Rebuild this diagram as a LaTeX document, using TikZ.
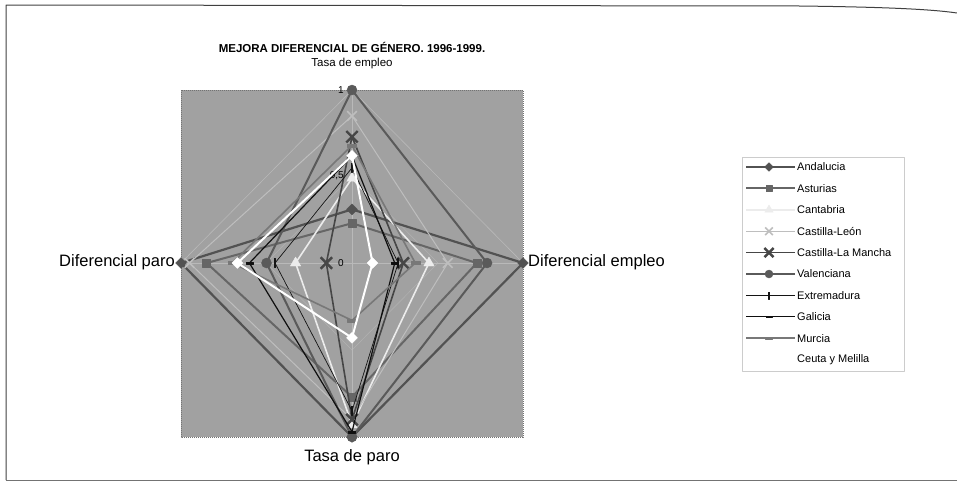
\documentclass[tikz,border=0pt]{standalone}
\usepackage{fontspec}
\setmainfont{Liberation Sans}
\usetikzlibrary{shapes.geometric, shapes.misc}
\definecolor{plotgray}{RGB}{161,161,161}
\definecolor{gridgray}{RGB}{185,185,185}
\definecolor{andcol}{RGB}{82,82,82}
\definecolor{astcol}{RGB}{102,102,102}
\definecolor{cancol}{RGB}{236,236,236}
\definecolor{cylcol}{RGB}{190,190,190}
\definecolor{clmcol}{RGB}{70,70,70}
\definecolor{valcol}{RGB}{90,90,90}
\definecolor{extcol}{RGB}{20,20,20}
\definecolor{galcol}{RGB}{15,15,15}
\definecolor{murcol}{RGB}{120,120,120}
\definecolor{ceucol}{RGB}{255,255,255}
\tikzstyle{mk_diamond} = [diamond, inner sep=0pt, minimum size=11pt]
\tikzstyle{mk_square} = [rectangle, inner sep=0pt, minimum size=8pt]
\tikzstyle{mk_tri} = [regular polygon, regular polygon sides=3, inner sep=0pt, minimum size=12pt]
\tikzstyle{mk_cross} = [cross out, fill=none, inner sep=0pt, minimum size=8pt, line width=1.6pt]
\tikzstyle{mk_star} = [cross out, fill=none, inner sep=0pt, minimum size=9pt, line width=2.4pt]
\tikzstyle{mk_circle} = [circle, inner sep=0pt, minimum size=10pt]
\tikzstyle{mk_plus} = [rectangle, inner sep=0pt, minimum width=1pt, minimum height=9pt]
\tikzstyle{mk_dash} = [rectangle, inner sep=0pt, minimum width=7pt, minimum height=2pt]
\tikzstyle{mk_bar} = [rectangle, inner sep=0pt, minimum width=9pt, minimum height=3pt]
\tikzstyle{axis_label} = [font=\fontsize{16.5}{18}\selectfont, inner sep=1pt]
\tikzstyle{tick_label} = [font=\fontsize{10}{11}\selectfont, inner sep=1pt, anchor=east]
\tikzstyle{legend_text} = [font=\fontsize{11}{12}\selectfont, inner sep=0pt, anchor=west]

\begin{document}
\begin{tikzpicture}[x=1pt, y=-1pt, line join=round]
\useasboundingbox (0,0) rectangle (957,490);
% frame of the scanned page
\draw[black!75, line width=1pt] (6,480) -- (6,5) -- (800,6) .. controls (880,7) and (930,9) .. (957,13);
\draw[black!55, line width=1pt] (6,480) -- (957,480);

% titles
\node[font=\fontsize{11.5}{13}\selectfont\bfseries] (title) at (352,47) {MEJORA DIFERENCIAL DE GÉNERO. 1996-1999.};
\node[font=\fontsize{11.5}{13}\selectfont] (lab_top) at (352,64) {Tasa de empleo};
\node[axis_label, anchor=east] (lab_left) at (176,262) {Diferencial paro};
\node[axis_label, anchor=west] (lab_right) at (527,262) {Diferencial empleo};
\node[axis_label] (lab_bottom) at (352,457) {Tasa de paro};

% plot area and grid
\draw[fill=plotgray, draw=black!55, densely dotted, line width=1pt] (181,90) rectangle (523,437);
\coordinate (c) at (352,263);
\draw[gridgray, line width=0.6pt] (352,90) -- (523,263) -- (352,437) -- (181,263) -- cycle;
\draw[gridgray!70!plotgray, line width=0.5pt] (352,176) -- (438,263) -- (352,350) -- (266,263) -- cycle;
\draw[gridgray, line width=0.6pt] (352,90) -- (352,437) (181,263) -- (523,263);
\node[tick_label] (t1) at (345,90) {1};
\node[tick_label] (t05) at (345,176) {0,5};
\node[tick_label] (t0) at (345,263) {0};

% legend box
\draw[black!20, fill=white] (742,157) rectangle (904,371);

% series: colour / width / marker / top / right / bottom / left / name
\foreach \col/\lw/\mk/\vt/\vr/\vb/\vl/\name [count=\i] in {
    andcol/2.2/mk_diamond/0.31/1.00/1.00/1.00/Andalucia,
    astcol/2/mk_square/0.23/0.73/0.77/0.85/Asturias,
    cancol/1.6/mk_tri/0.49/0.45/0.93/0.33/Cantabria,
    cylcol/1/mk_cross/0.85/0.56/0.90/0.95/Castilla-León,
    clmcol/1.6/mk_star/0.73/0.30/0.90/0.15/Castilla-La Mancha,
    valcol/2/mk_circle/1.00/0.79/1.00/0.50/Valenciana,
    extcol/0.7/mk_plus/0.55/0.27/0.85/0.45/Extremadura,
    galcol/1.2/mk_dash/0.62/0.25/0.97/0.60/Galicia,
    murcol/1.6/mk_bar/0.68/0.37/0.33/0.70/Murcia,
    ceucol/2/mk_diamond/0.62/0.12/0.43/0.67/Ceuta y Melilla}
{
    \coordinate (s\i t) at (352,{263-173*\vt});
    \coordinate (s\i r) at ({352+171*\vr},263);
    \coordinate (s\i b) at (352,{263+174*\vb});
    \coordinate (s\i l) at ({352-171*\vl},263);
    \draw[\col, line width=\lw pt] (s\i t) -- (s\i r) -- (s\i b) -- (s\i l) -- cycle;
    \foreach \p in {t,r,b,l}
        \node[draw=\col, fill=\col, \mk] (m\i\p) at (s\i\p) {};
    % legend entry
    \coordinate (g\i a) at (746,{167+21.4*(\i-1)});
    \coordinate (g\i b) at (795,{167+21.4*(\i-1)});
    \draw[\col, line width=\lw pt] (g\i a) -- (g\i b);
    \node[draw=\col, fill=\col, \mk, scale=0.8] (gm\i) at (769,{167+21.4*(\i-1)}) {};
    \node[legend_text] (gt\i) at (797,{167+21.4*(\i-1)}) {\name};
}
\end{tikzpicture}
\end{document}
